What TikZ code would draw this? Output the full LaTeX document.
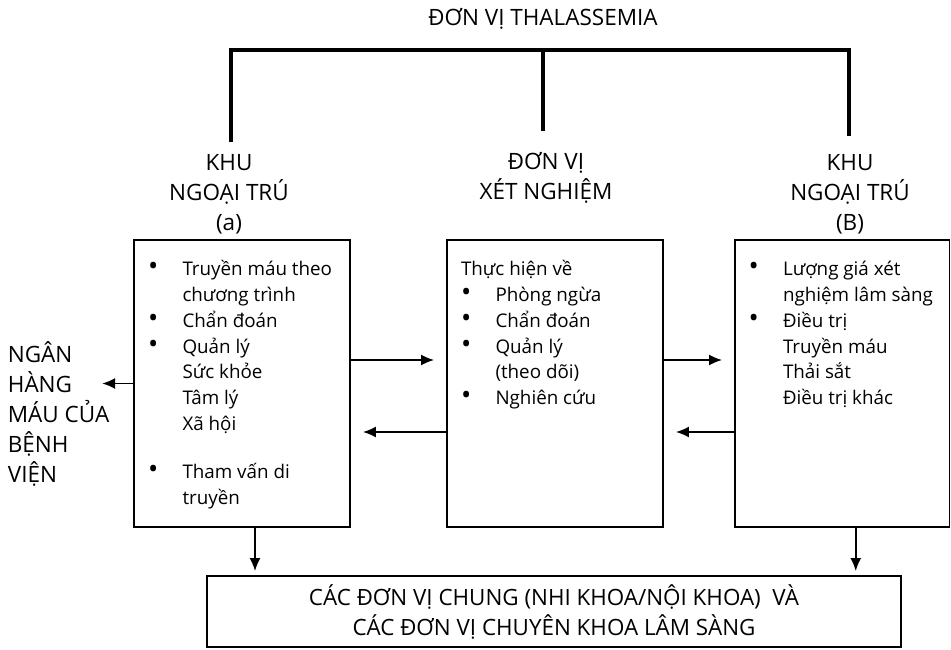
\documentclass[tikz,border=0pt]{standalone}
\usepackage{fontspec}
\setmainfont{Open Sans}
\usetikzlibrary{calc, positioning, arrows.meta}

\newcommand{\bul}{\makebox[34.5pt][l]{\scalebox{1.45}{\textbullet}}}
\newcommand{\ind}{\hspace*{34.5pt}}

\begin{document}
\begin{tikzpicture}[x=1pt, y=-1pt, line width=1.8pt, >={Latex[length=13pt, width=11pt]},
        box/.style={draw, rectangle, inner sep=0pt},
        head/.style={align=center, anchor=base, font=\fontsize{22.5}{30}\selectfont},
        list/.style={align=left, inner sep=0pt, font=\fontsize{18.8}{25.7}\selectfont},
        bracket/.style={line width=4pt},
        arr/.style={->, shorten >=12pt}]
        \useasboundingbox (0,0) rectangle (951,650);

        % title and the three units
        \node[anchor=base, font=\fontsize{22.5}{30}\selectfont] (title) at (543,26) {ĐƠN VỊ THALASSEMIA};
        \node[head] (hdrA) at (229,230) {KHU\\NGOẠI TRÚ\\(a)};
        \node[head] (hdrM) at (546,200) {ĐƠN VỊ\\XÉT NGHIỆM};
        \node[head] (hdrB) at (850,230) {KHU\\NGOẠI TRÚ\\(B)};

        \coordinate (hub) at (543,50);
        \draw[bracket] ([xshift=2pt, yshift=7.7pt]hdrA.north) |- (hub) -| ([xshift=-1pt, yshift=13.7pt]hdrB.north);
        \draw[bracket] (hub) -- ([xshift=-3pt, yshift=17.7pt]hdrM.north);

        % boxes
        \node[box, minimum width=216pt, minimum height=287pt] (boxA) at (242,383.5) {};
        \node[box, minimum width=216pt, minimum height=287pt] (boxM) at (555,383.5) {};
        \node[box, minimum width=214.5pt, minimum height=287pt] (boxB) at (842.25,383.5) {};

        \node[list, below right=18pt and 14pt of boxA.north west] (listA) {\strut\bul Truyền máu theo\\
            \ind chương trình\\
            \bul Chẩn đoán\\
            \bul Quản lý\\
            \ind Sức khỏe\\
            \ind Tâm lý\\
            \ind Xã hội\\[23pt]
            \bul Tham vấn di\\
            \ind truyền};
        \node[list, below right=18pt and 14pt of boxM.north west] (listM) {\strut Thực hiện về\\
            \bul Phòng ngừa\\
            \bul Chẩn đoán\\
            \bul Quản lý\\
            \ind (theo dõi)\\
            \bul Nghiên cứu};
        \node[list, below right=18pt and 13.5pt of boxB.north west] (listB) {\strut\bul Lượng giá xét\\
            \ind nghiệm lâm sàng\\
            \bul Điều trị\\
            \ind Truyền máu\\
            \ind Thải sắt\\
            \ind Điều trị khác};

        \node[align=left, anchor=base west, inner sep=0pt, font=\fontsize{22.5}{30}\selectfont] (bank) at (7,482) {NGÂN\\HÀNG\\MÁU CỦA\\BỆNH\\VIỆN};
        \node[box, minimum width=694pt, minimum height=71pt, align=center, font=\fontsize{22.4}{30}\selectfont] (units) at (554,611.5) {CÁC ĐƠN VỊ CHUNG (NHI KHOA/NỘI KHOA)~ VÀ\\CÁC ĐƠN VỊ CHUYÊN KHOA LÂM SÀNG};

        % links
        \coordinate[left=31pt of boxA.west] (bankin);
        \draw[->] (boxA.west) -- (bankin);
        \draw[arr] ([yshift=23.5pt]boxA.east) -- ([yshift=23.5pt]boxM.west);
        \draw[arr] ([yshift=-48.5pt]boxM.west) -- ([yshift=-48.5pt]boxA.east);
        \draw[arr] ([yshift=23.5pt]boxM.east) -- ([yshift=23.5pt]boxB.west);
        \draw[arr] ([yshift=-48.5pt]boxB.west) -- ([yshift=-48.5pt]boxM.east);
        \draw[->, shorten >=4pt] ([xshift=13pt]boxA.south) -- ([xshift=13pt]boxA.south |- units.north);
        \draw[->, shorten >=4pt] ([xshift=13.5pt]boxB.south) -- ([xshift=13.5pt]boxB.south |- units.north);
    \end{tikzpicture}
\end{document}
